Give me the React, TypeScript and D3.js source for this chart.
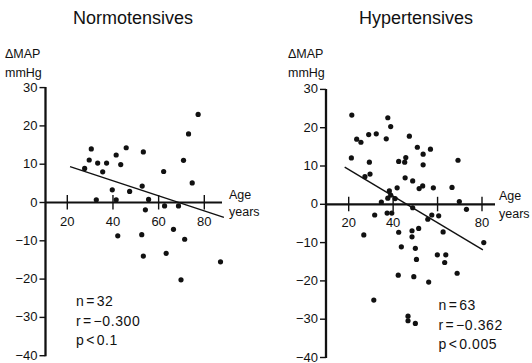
import React from "react";
import * as d3 from "d3";

const normoAge = [77.3, 73.1, 30.5, 45.8, 41.4, 53.3, 29.6, 33.3, 37.2, 43.4, 27.6, 35.5, 70.9, 62.2, 74.7, 52.8, 39.7, 47.3, 32.7, 41.4, 55.6, 54.2, 62.6, 68.7, 66.5, 42.1, 52.6, 71.4, 53.3, 63.3, 87.1, 69.8];
const normoDelta = [23.0, 17.9, 14.0, 14.3, 12.4, 13.2, 11.1, 10.3, 10.3, 9.9, 8.9, 8.0, 11.0, 8.1, 5.1, 4.3, 3.3, 2.9, 0.7, 0.7, 0.8, -1.9, -0.9, -0.9, -7.0, -8.7, -8.4, -9.6, -14.0, -13.3, -15.5, -20.2];

const hyperAge = [21.4, 37.6, 38.9, 23.6, 25.5, 29.0, 32.4, 36.9, 47.3, 50.9, 56.8, 53.5, 45.7, 42.5, 45.2, 53.5, 21.2, 29.3, 69.2, 29.6, 27.3, 45.4, 48.8, 41.8, 51.7, 53.3, 58.1, 66.5, 38.3, 38.9, 37.6, 40.9, 34.7, 69.8, 73.0, 48.8, 37.3, 39.4, 31.7, 57.4, 60.5, 55.6, 51.5, 48.5, 42.5, 62.5, 26.8, 48.5, 80.8, 43.7, 50.0, 50.5, 59.9, 63.7, 63.2, 68.8, 42.3, 49.3, 56.0, 31.3, 46.7, 46.7, 50.0];
const hyperDelta = [23.3, 22.6, 20.3, 17.0, 16.2, 18.2, 18.4, 17.1, 17.8, 14.9, 14.4, 13.1, 12.2, 11.2, 11.0, 10.3, 12.1, 11.0, 11.5, 7.9, 7.2, 6.9, 6.1, 4.3, 4.1, 4.8, 4.3, 4.4, 3.5, 2.4, 1.6, 1.5, 0.6, 0.7, -1.3, -0.9, -2.3, -2.3, -2.8, -2.8, -3.0, -3.9, -6.3, -6.9, -7.3, -7.2, -8.0, -8.5, -10.0, -11.1, -11.5, -14.4, -13.2, -13.2, -15.2, -18.0, -18.5, -18.9, -20.3, -25.0, -29.2, -30.4, -31.1];

const normoFitAge = [21.2, 88.6];
const normoFitDelta = [9.35, -3.9];
const hyperFitAge = [18.2, 80.4];
const hyperFitDelta = [9.7, -11.9];

const yTicks = [30, 20, 10, 0, -10, -20, -30, -40];
const xTicks = [20, 40, 60, 80];
const normoXLabels = ["20", "40", "60", "80"];
const hyperXLabels = ["20", "40", "", "80"];

const titles = ["Normotensives", "Hypertensives"];
const statsNormo = ["n\u200a=\u200a32", "r\u200a=\u200a\u22120.300", "p\u200a<\u200a0.1"];
const statsHyper = ["n\u200a=\u200a63", "r\u200a=\u200a\u22120.362", "p\u200a<\u200a0.005"];

const FONT = "'Liberation Sans', Arial, Helvetica, sans-serif";

type PanelProps = {
  title: string;
  ages: number[];
  deltas: number[];
  fitAge: number[];
  fitDelta: number[];
  xLabels: string[];
  stats: string[];
  axisX: number;
  xRange: [number, number];
  yZero: number;
  axisEnd: number;
  ageX: number;
  titleX: number;
  labelX: number;
  statsX: number;
  statsY: number;
};

function fmt(v: number) {
  return v < 0 ? "\u2212" + Math.abs(v) : String(v);
}

function Panel(p: PanelProps) {
  const x = d3.scaleLinear().domain([20, 80]).range(p.xRange);
  const unit = 3.83;
  const y = d3.scaleLinear().domain([0, 30]).range([p.yZero, p.yZero - 30 * unit]);
  const line = d3
    .line<number>()
    .x((_, i) => x(p.fitAge[i]))
    .y((d) => y(d));
  const y0 = y(0);
  return (
    <g fontFamily={FONT} fill="#111">
      <text x={p.titleX} y={24} fontSize={18} textAnchor="middle">{p.title}</text>
      <text x={p.labelX} y={58} fontSize={12.5}>{"\u0394MAP"}</text>
      <text x={p.labelX} y={77} fontSize={12.5}>mmHg</text>
      {/* y axis */}
      <line x1={p.axisX} x2={p.axisX} y1={y(30) - 0.5} y2={y(-40) + 0.5} stroke="#111" strokeWidth={2.3} />
      {yTicks.map((t) => (
        <g key={t}>
          <line x1={p.axisX - 6} x2={p.axisX} y1={y(t)} y2={y(t)} stroke="#111" strokeWidth={1.4} />
          <text x={p.axisX - 8} y={y(t) + 4} fontSize={13} textAnchor="end">{fmt(t)}</text>
        </g>
      ))}
      {/* x axis */}
      <line x1={p.axisX} x2={p.axisEnd} y1={y0} y2={y0} stroke="#111" strokeWidth={2.2} />
      {xTicks.map((t, i) => (
        <g key={t}>
          <line x1={x(t)} x2={x(t)} y1={y0 - 7.5} y2={y0 + 7} stroke="#111" strokeWidth={1.4} />
          {p.xLabels[i] ? (
            <text x={x(t)} y={y0 + 23} fontSize={13} textAnchor="middle">{p.xLabels[i]}</text>
          ) : null}
        </g>
      ))}
      <text x={p.ageX} y={y0 - 4} fontSize={12.5}>Age</text>
      <text x={p.ageX} y={y0 + 13.5} fontSize={12.5}>years</text>
      {/* regression */}
      <path d={line(p.fitDelta) || ""} stroke="#111" strokeWidth={1.4} fill="none" />
      {/* points */}
      {p.ages.map((a, i) => (
        <circle key={i} cx={x(a)} cy={y(p.deltas[i])} r={2.6} fill="#111" />
      ))}
      {p.stats.map((s, i) => (
        <text key={i} x={p.statsX} y={p.statsY + i * 19.5} fontSize={14} letterSpacing={0.6}>{s}</text>
      ))}
    </g>
  );
}

export default function App() {
  return (
    <svg width={532} height={363} style={{ position: "absolute", left: 0, top: 0, background: "#fff" }}>
      <rect width={532} height={363} fill="#fff" />
      <Panel
        title={titles[0]}
        ages={normoAge}
        deltas={normoDelta}
        fitAge={normoFitAge}
        fitDelta={normoFitDelta}
        xLabels={normoXLabels}
        stats={statsNormo}
        axisX={45.5}
        xRange={[67.3, 204.3]}
        yZero={202.5}
        axisEnd={222}
        ageX={229}
        titleX={133}
        labelX={5}
        statsX={76}
        statsY={306}
      />
      <Panel
        title={titles[1]}
        ages={hyperAge}
        deltas={hyperDelta}
        fitAge={hyperFitAge}
        fitDelta={hyperFitDelta}
        xLabels={hyperXLabels}
        stats={statsHyper}
        axisX={326}
        xRange={[348.7, 482]}
        yZero={204.3}
        axisEnd={495}
        ageX={499}
        titleX={416}
        labelX={288}
        statsX={438.5}
        statsY={310}
      />
    </svg>
  );
}
